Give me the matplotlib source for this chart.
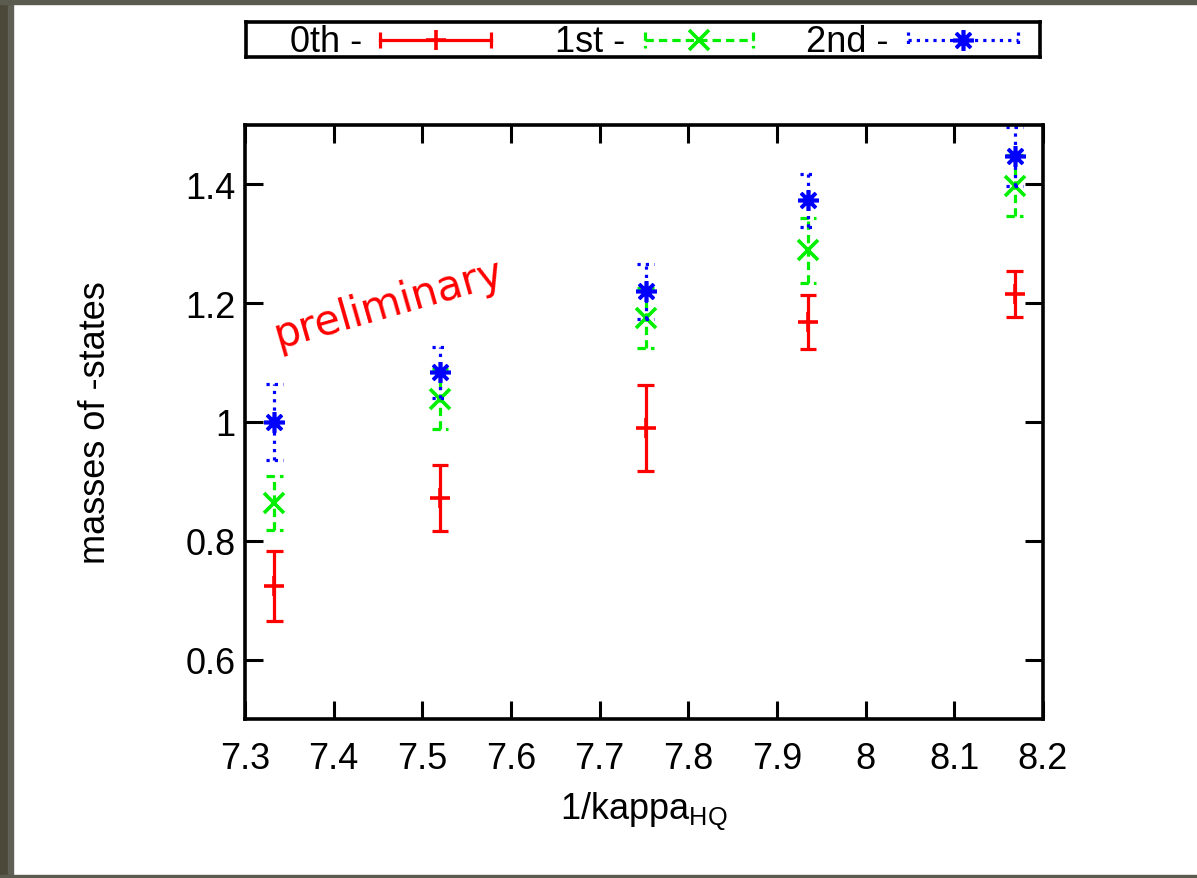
import matplotlib
matplotlib.use("Agg")
import matplotlib.pyplot as plt
from matplotlib.patches import Rectangle
import numpy as np

# 1/kappa_HQ values and masses (0th, 1st, 2nd states) with errors
kappa_inv = [7.333, 7.52, 7.752, 7.935, 8.168]
m0 = [0.724, 0.872, 0.990, 1.168, 1.215]
e0 = [0.059, 0.055, 0.072, 0.045, 0.039]
m1 = [0.864, 1.039, 1.175, 1.289, 1.398]
e1 = [0.045, 0.051, 0.050, 0.055, 0.052]
m2 = [1.000, 1.084, 1.220, 1.373, 1.447]
e2 = [0.064, 0.043, 0.046, 0.044, 0.050]

series_labels = ["0th -", "1st -", "2nd -"]
xticks = [7.3, 7.4, 7.5, 7.6, 7.7, 7.8, 7.9, 8.0, 8.1, 8.2]
xticklabels = ["7.3", "7.4", "7.5", "7.6", "7.7", "7.8", "7.9", "8", "8.1", "8.2"]
yticks = [0.6, 0.8, 1.0, 1.2, 1.4]
yticklabels = ["0.6", "0.8", "1", "1.2", "1.4"]

plt.rcParams.update({
    "font.family": ["Liberation Sans", "DejaVu Sans"],
    "mathtext.fontset": "custom",
    "mathtext.rm": "Liberation Sans",
    "mathtext.it": "Liberation Sans",
})
FS = 26

W, H = 1197, 879
fig = plt.figure(figsize=(W / 100, H / 100), dpi=100, facecolor="white")

# window-like grey frame
fig.patches.append(Rectangle((0, 0), 8 / W, 1, transform=fig.transFigure, color="#4c4839", zorder=-5))
fig.patches.append(Rectangle((8 / W, 0), 5 / W, 1, transform=fig.transFigure, color="#606056", zorder=-5))
fig.patches.append(Rectangle((0, 1 - 5 / H), 1, 5 / H, transform=fig.transFigure, color="#5c5b50", zorder=-5))
fig.patches.append(Rectangle((0, 0), 1, 3 / H, transform=fig.transFigure, color="#5c5b50", zorder=-5))

ax = fig.add_axes([245 / W, 1 - 720 / H, (1043 - 245) / W, (720 - 126) / H])
ax.set_xlim(7.3, 8.2)
ax.set_ylim(0.5, 1.5)

styles = [
    dict(color="#ff0000", ls="-", marker="+", data=(m0, e0)),
    dict(color="#00f000", ls=(0, (2.6, 1.6)), marker="x", data=(m1, e1)),
    dict(color="#0000ff", ls=(0, (1.0, 1.6)), marker=(8, 2, 0), data=(m2, e2)),
]
cap = 0.0095
lw = 2.3
for st in styles:
    y, e = st["data"]
    x = np.array(kappa_inv)
    y = np.array(y)
    e = np.array(e)
    ax.vlines(x, y - e, y + e, colors=st["color"], linestyles=st["ls"], lw=lw, clip_on=False)
    ax.hlines(y - e, x - cap, x + cap, colors=st["color"], linestyles=st["ls"], lw=lw)
    ax.hlines(y + e, x - cap, x + cap, colors=st["color"], linestyles=st["ls"], lw=lw)
    ax.plot(x, y, ls="none", marker=st["marker"], ms=15, mew=2.6, color=st["color"])

ax.set_xticks(xticks)
ax.set_xticklabels(xticklabels)
ax.set_yticks(yticks)
ax.set_yticklabels(yticklabels)
ax.tick_params(direction="in", length=13, width=2.2, labelsize=FS,
               top=True, right=True)
ax.tick_params(axis="x", pad=16)
ax.tick_params(axis="y", pad=7)
for sp in ax.spines.values():
    sp.set_linewidth(2.6)

ax.set_xlabel(r"1/kappa$_{\mathrm{HQ}}$", fontsize=FS)
ax.xaxis.set_label_coords(0.5, -0.12)
ax.set_ylabel("masses of -states", fontsize=FS)
ax.yaxis.set_label_coords(-0.166, 0.5)

ax.text(0.18, 0.70, "preliminary", transform=ax.transAxes, color="#ff0000",
        fontsize=30, family="DejaVu Sans", rotation=16,
        ha="center", va="center", rotation_mode="anchor")

# gnuplot-style key box across the top
lax = fig.add_axes([246 / W, 1 - 58 / H, (1040 - 246) / W, (58 - 23) / H])
lax.set_xlim(246, 1040)
lax.set_ylim(58, 23)
lax.set_xticks([])
lax.set_yticks([])
for sp in lax.spines.values():
    sp.set_linewidth(2.6)
text_right = [362, 625, 888]
sample_x = [(380, 491), (645, 753), (908, 1018)]
for lbl, tr, (sx0, sx1), st in zip(series_labels, text_right, sample_x, styles):
    lax.text(tr, 42, lbl, ha="right", va="center", fontsize=FS)
    lax.plot([sx0, sx1], [41, 41], color=st["color"], ls=st["ls"], lw=lw)
    lax.vlines([sx0, sx1], 33, 49, colors=st["color"], linestyles=st["ls"], lw=lw)
    lax.plot([(sx0 + sx1) / 2], [41], marker=st["marker"], ms=15, mew=2.6, color=st["color"])

fig.savefig("out.png", dpi=100, facecolor="white")
